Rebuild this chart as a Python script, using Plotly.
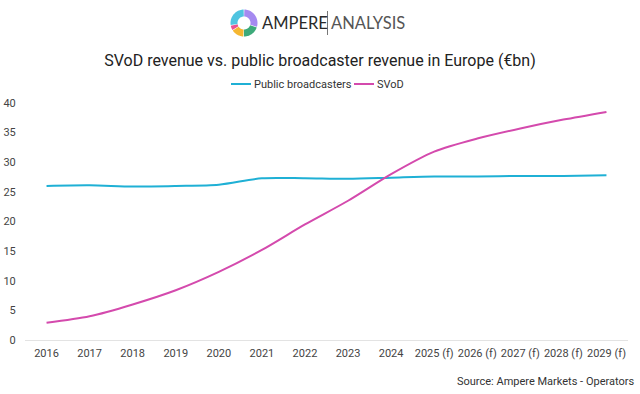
import math
import plotly.graph_objects as go

years = ["2016", "2017", "2018", "2019", "2020", "2021", "2022", "2023", "2024",
         "2025 (f)", "2026 (f)", "2027 (f)", "2028 (f)", "2029 (f)"]
public_broadcasters = [26.0, 26.1, 25.9, 26.0, 26.2, 27.3, 27.3, 27.2, 27.4, 27.6, 27.6, 27.7, 27.7, 27.8]
svod = [2.9, 4.0, 6.0, 8.4, 11.5, 15.2, 19.5, 23.5, 28.0, 31.8, 34.0, 35.7, 37.2, 38.5]
series_names = ["Public broadcasters", "SVoD"]

# decorative logo ring (share of circle, clockwise from 12 o'clock)
logo_shares = [29, 20, 15, 6, 27]
logo_colors = ["#a58af0", "#3daa7a", "#f5b731", "#e9528f", "#4fc4e0"]

CYAN = "#1fb0d5"
MAGENTA = "#d44aad"

W, H = 640, 394
L, R, T, B = 25, 12, 103, 54
PW, PH = W - L - R, H - T - B


def px_x(p):
    return (p - L) / PW


def px_y(p):
    return (H - B - p) / PH


fig = go.Figure()
fig.add_trace(go.Scatter(x=years, y=public_broadcasters, mode="lines", name=series_names[0],
                         line=dict(color=CYAN, width=2, shape="spline", smoothing=0.8)))
fig.add_trace(go.Scatter(x=years, y=svod, mode="lines", name=series_names[1],
                         line=dict(color=MAGENTA, width=2, shape="spline", smoothing=0.8)))

fig.update_layout(
    width=W, height=H,
    margin=dict(l=L, r=R, t=T, b=B, autoexpand=False),
    paper_bgcolor="white", plot_bgcolor="white",
    font=dict(family="Roboto, sans-serif", color="#444444", size=11),
    title=dict(text="SVoD revenue vs. public broadcaster revenue in Europe (€bn)",
               x=0.5, xanchor="center", y=1 - 60/394, yanchor="middle",
               font=dict(size=16, color="#222222", family="Roboto, sans-serif")),
    showlegend=False,
    xaxis=dict(type="category", range=[-0.5, len(years) - 0.5], showgrid=False, showline=False,
               ticks="outside", ticklen=3, tickcolor="rgba(0,0,0,0)", tickangle=0,
               automargin=False, tickfont=dict(size=11, color="#444444"), fixedrange=True),
    yaxis=dict(range=[0, 40], dtick=5, showgrid=False, zeroline=True, zerolinecolor="#e3e3e3",
               zerolinewidth=1, showline=False, ticks="outside", ticklen=6, automargin=False,
               tickcolor="rgba(0,0,0,0)", tickfont=dict(size=11, color="#444444"), fixedrange=True),
)

# manual legend
legend_items = [(231, 251, 253, CYAN), (354, 374, 376, MAGENTA)]
for name, (x0, x1, xt, col) in zip(series_names, legend_items):
    fig.add_shape(type="line", xref="paper", yref="paper", x0=px_x(x0), x1=px_x(x1),
                  y0=px_y(84), y1=px_y(84), line=dict(color=col, width=2))
    fig.add_annotation(text=name, x=px_x(xt), xref="paper", y=px_y(84), yref="paper",
                       xanchor="left", yanchor="middle", showarrow=False, borderpad=0,
                       font=dict(size=11, color="#333333"))

# logo ring drawn as shapes (pixel geometry converted to paper coords)
cx, cy, r_out, r_in = 244, 23, 13.5, 6.5
gap = 3.0
total = sum(logo_shares)
start = 0.0
for share, col in zip(logo_shares, logo_colors):
    span = 360.0 * share / total
    a0, a1 = start + gap / 2, start + span - gap / 2
    n = 24
    pts = []
    for i in range(n + 1):
        a = math.radians(a0 + (a1 - a0) * i / n)
        pts.append((cx + r_out * math.sin(a), cy - r_out * math.cos(a)))
    for i in range(n, -1, -1):
        a = math.radians(a0 + (a1 - a0) * i / n)
        pts.append((cx + r_in * math.sin(a), cy - r_in * math.cos(a)))
    path = "M " + " L ".join(f"{px_x(x):.5f},{px_y(y):.5f}" for x, y in pts) + " Z"
    fig.add_shape(type="path", path=path, xref="paper", yref="paper",
                  fillcolor=col, line=dict(width=0), layer="above")
    start += span

fig.add_annotation(text="AMPERE", x=px_x(261), xref="paper", y=px_y(23), yref="paper",
                   xanchor="left", yanchor="middle", showarrow=False, borderpad=0,
                   font=dict(family="Lato, sans-serif", size=16.5, color="#2a2a2a"))
fig.add_shape(type="line", xref="paper", yref="paper", x0=px_x(327.5), x1=px_x(327.5),
              y0=px_y(11), y1=px_y(35), line=dict(color="#777777", width=1))
fig.add_annotation(text="ANALYSIS", x=px_x(330), xref="paper", y=px_y(23), yref="paper",
                   xanchor="left", yanchor="middle", showarrow=False, borderpad=0,
                   font=dict(family="Lato, sans-serif", size=16.5, color="#555555"))
fig.add_annotation(text="Source: Ampere Markets - Operators", x=px_x(635), xref="paper",
                   y=px_y(381), yref="paper", xanchor="right", yanchor="middle",
                   showarrow=False, borderpad=0, font=dict(size=11, color="#333333"))

fig.write_html("out.html", config={"displayModeBar": False},
               post_script="document.body.style.margin='0';")
